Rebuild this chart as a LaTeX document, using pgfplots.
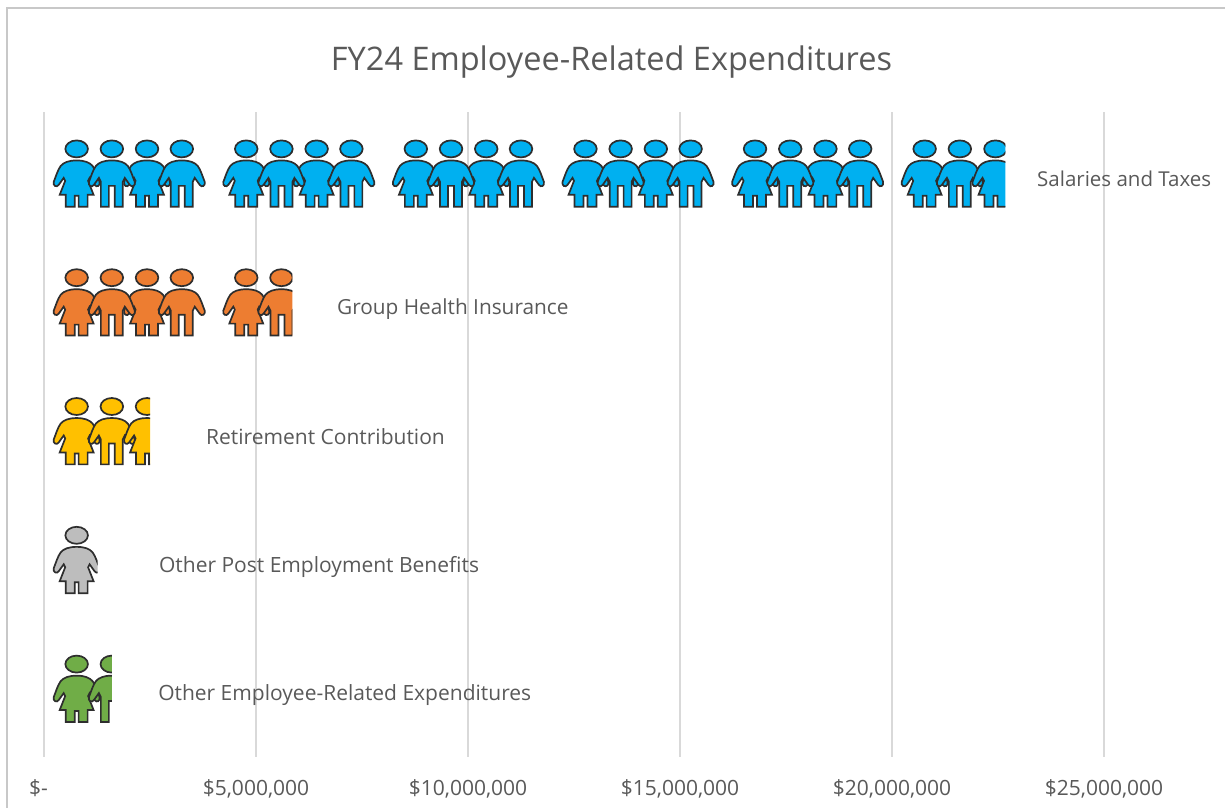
\documentclass[border=0pt]{standalone}
\usepackage{fontspec}
\setmainfont{Open Sans}
\usepackage{pgfplots}
\pgfplotsset{compat=1.18}
\usepgflibrary{svg.path}
\definecolor{txt}{HTML}{595959}
\definecolor{gridc}{HTML}{D9D9D9}
\definecolor{framec}{HTML}{C8C8C8}
\definecolor{outl}{HTML}{2E2E2E}
\definecolor{cblue}{HTML}{00B0F0}
\definecolor{corange}{HTML}{ED7D31}
\definecolor{cgold}{HTML}{FFC000}
\definecolor{cgray}{HTML}{BDBDBD}
\definecolor{cgreen}{HTML}{70AD47}
\newcommand\girlshape{%
  \pgfpathellipse{\pgfpoint{0bp}{25bp}}{\pgfpoint{11.3bp}{0bp}}{\pgfpoint{0bp}{8.5bp}}%
  \pgfpathsvg{M 0 13.5 C 8 13.5 13 11.5 16 8 C 19 4 21 -3 23 -8 C 24 -12 20 -14 18 -11 L 13 -4 L 11.5 -7 L 17 -21 L 11 -21 L 11 -33 L 2 -33 L 2 -22 L -2 -22 L -2 -33 L -11 -33 L -11 -21 L -17 -21 L -11.5 -7 L -13 -4 L -18 -11 C -20 -14 -24 -12 -23 -8 C -21 -3 -19 4 -16 8 C -13 11.5 -8 13.5 0 13.5 Z}}
\newcommand\boyshape{%
  \pgfpathellipse{\pgfpoint{0bp}{25bp}}{\pgfpoint{11.3bp}{0bp}}{\pgfpoint{0bp}{8.5bp}}%
  \pgfpathsvg{M 0 13.5 C 8 13.5 13 11.5 16 8 C 19 4 21 -3 23 -8 C 24 -12 20 -14 18 -11 L 13 -4 L 11 -8 L 11 -33 L 3 -33 L 3 -12 L -3 -12 L -3 -33 L -11 -33 L -11 -8 L -13 -4 L -18 -11 C -20 -14 -24 -12 -23 -8 C -21 -3 -19 4 -16 8 C -13 11.5 -8 13.5 0 13.5 Z}}
% full figures
\pgfdeclareplotmark{girl}{\pgftransformyshift{3bp}\girlshape\pgfusepathqfillstroke}
\pgfdeclareplotmark{boy}{\pgftransformyshift{3bp}\boyshape\pgfusepathqfillstroke}
% figures cut at the end of a bar: #1 name, #2 shape, #3 px kept right of the head centre
\newcommand\cutmark[3]{\pgfdeclareplotmark{#1}{\pgftransformyshift{3bp}%
  \pgfpathrectangle{\pgfpoint{-30bp}{-40bp}}{\pgfpoint{#3bp+30bp}{80bp}}\pgfusepath{clip}%
  #2\pgfusepathqfillstroke}}
\cutmark{girlA}{\girlshape}{10}
\cutmark{boyB}{\boyshape}{11}
\cutmark{girlC}{\girlshape}{3}
\cutmark{girlD}{\girlshape}{21}
\cutmark{boyE}{\boyshape}{0}
\pgfplotsset{
  fig/.style 2 args={only marks, mark=#1, mark options={solid, fill=#2, draw=outl, line width=1.7bp}},
}
\begin{document}
\begin{tikzpicture}[x=1bp,y=1bp]
\path[use as bounding box] (0,0) rectangle (1225,808);
\begin{axis}[
  at={(44bp,51.5bp)}, anchor=south west,
  scale only axis, width=1187.2bp, height=644bp,
  xmin=0, xmax=28000000, ymin=-0.5, ymax=4.5, y dir=reverse,
  clip=false,
  axis line style={draw=none},
  ytick=\empty,
  xtick={0,5000000,10000000,15000000,20000000,25000000},
  xticklabels={{\$-\rule{11bp}{0pt}},{\$5,000,000},{\$10,000,000},{\$15,000,000},{\$20,000,000},{\$25,000,000}},
  scaled x ticks=false,
  major tick length=0pt,
  xmajorgrids, grid style={gridc, line width=2bp},
  xticklabel style={text=txt, font=\fontsize{21bp}{24bp}\selectfont, yshift=-20bp},
]
% Salaries and Taxes
\addplot[fig={girl}{cblue}] coordinates {(770000,0)(2430000,0)(4770000,0)(6430000,0)(8770000,0)(10430000,0)(12770000,0)(14430000,0)(16770000,0)(18430000,0)(20770000,0)};
\addplot[fig={boy}{cblue}] coordinates {(1600000,0)(3250000,0)(5600000,0)(7250000,0)(9600000,0)(11250000,0)(13600000,0)(15250000,0)(17600000,0)(19250000,0)(21600000,0)};
\addplot[fig={girlA}{cblue}] coordinates {(22440000,0)};
% Group Health Insurance
\addplot[fig={girl}{corange}] coordinates {(770000,1)(2430000,1)(4770000,1)};
\addplot[fig={boy}{corange}] coordinates {(1600000,1)(3250000,1)};
\addplot[fig={boyB}{corange}] coordinates {(5600000,1)};
% Retirement Contribution
\addplot[fig={girl}{cgold}] coordinates {(770000,2)};
\addplot[fig={boy}{cgold}] coordinates {(1600000,2)};
\addplot[fig={girlC}{cgold}] coordinates {(2430000,2)};
% Other Post Employment Benefits
\addplot[fig={girlD}{cgray}] coordinates {(770000,3)};
% Other Employee-Related Expenditures
\addplot[fig={girl}{cgreen}] coordinates {(770000,4)};
\addplot[fig={boyE}{cgreen}] coordinates {(1600000,4)};
% data labels
\begin{scope}[every node/.style={text=txt, font=\fontsize{21bp}{24bp}\selectfont, anchor=west, inner sep=0pt}]
\node[font=\fontsize{20.5bp}{24bp}\selectfont] at (axis cs:23420000,0.015) {Salaries and Taxes};
\node[font=\fontsize{20.8bp}{24bp}\selectfont] at (axis cs:6910000,1.025) {Group Health Insurance};
\node at (axis cs:3820000,2.02) {Retirement Contribution};
\node at (axis cs:2710000,3.025) {Other Post Employment Benefits};
\node at (axis cs:2690000,4.025) {Other Employee-Related Expenditures};
\end{scope}
\end{axis}
\draw[framec, line width=2bp] (6.5,0) -- (6.5,799.5) -- (1225,799.5);
\node[text=txt, font=\fontsize{32.5bp}{38bp}\selectfont] at (611.5,746) {FY24 Employee-Related Expenditures};
\end{tikzpicture}
\end{document}
